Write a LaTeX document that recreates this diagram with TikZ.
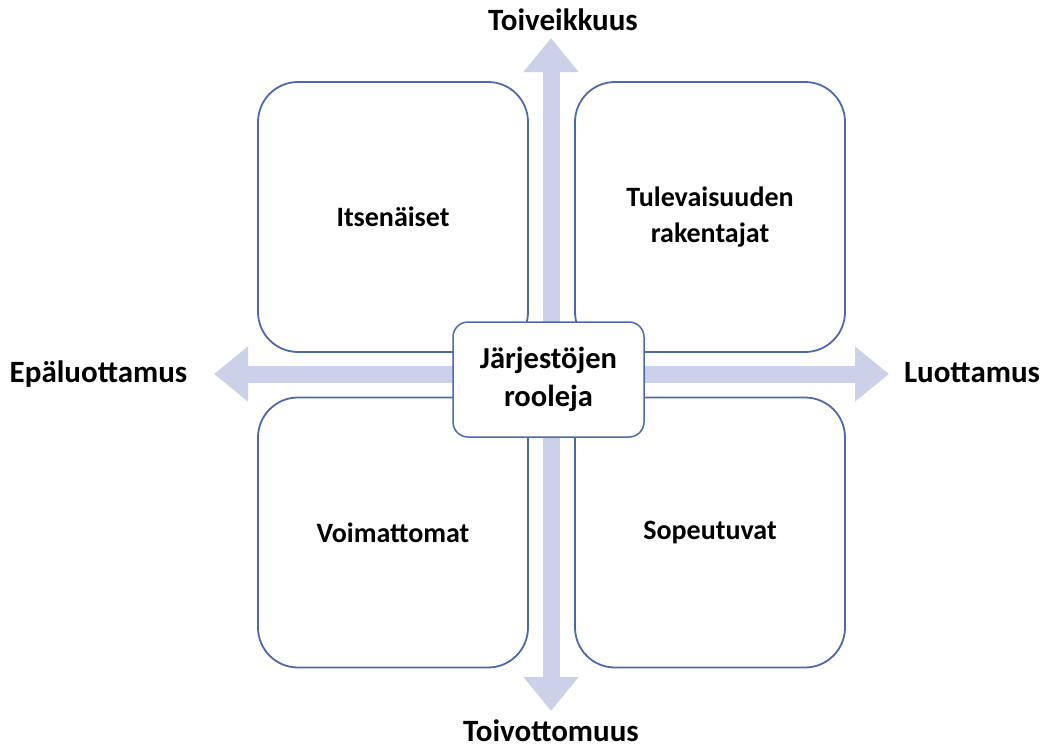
\documentclass[tikz,border=0pt]{standalone}
\usepackage{fontspec}
\setmainfont{Carlito}
\usetikzlibrary{arrows.meta}
\definecolor{axisfill}{HTML}{CAD1E9}
\definecolor{boxline}{HTML}{4D69AD}
\tikzset{
  quad/.style={draw=boxline, line width=1.8pt, fill=white, rounded corners=40pt,
    minimum width=270pt, minimum height=270pt, align=center,
    font=\bfseries\fontsize{28}{36}\selectfont},
  centrebox/.style={draw=boxline, line width=1.5pt, fill=white, rounded corners=15pt,
    minimum width=191pt, minimum height=115pt, align=center,
    font=\bfseries\fontsize{30.5}{38}\selectfont},
  axislabel/.style={font=\bfseries\fontsize{31}{36}\selectfont, inner sep=0pt, anchor=base},
  axisarrow/.style={draw=axisfill, line width=17pt,
    -{Triangle[length=34pt, width=53pt]}}
}
\begin{document}
\begin{tikzpicture}[x=1pt, y=-1pt]
\useasboundingbox (0,0) rectangle (1041,747);
% axis ends
\coordinate (c) at (551,374);
\coordinate (up) at (551,38);
\coordinate (down) at (551,711);
\coordinate (left) at (214,374);
\coordinate (right) at (889,374);
\draw[axisarrow] (c) -- (up);
\draw[axisarrow] (c) -- (down);
\draw[axisarrow] (c) -- (left);
\draw[axisarrow] (c) -- (right);
% quadrants
\node[quad] (tl) at (393,217) {Itsenäiset};
\node[quad] (tr) at (710,217) {Tulevaisuuden\\rakentajat};
\node[quad] (bl) at (393,532.5) {Voimattomat};
\node[quad] (br) at (710,532.5) {Sopeutuvat};
% vertical shaft visible between boxes
\fill[axisfill] (542.5,350) rectangle (559.5,400);
\node[centrebox] (mid) at (548.5,379.5) {Järjestöjen\\rooleja};
% axis labels
\node[axislabel] (hope) at (563,30) {Toiveikkuus};
\node[axislabel] (hopeless) at (551,741.5) {Toivottomuus};
\node[axislabel] (distrust) at (98.5,382) {Epäluottamus};
\node[axislabel] (trust) at (972,382) {Luottamus};
\end{tikzpicture}
\end{document}
